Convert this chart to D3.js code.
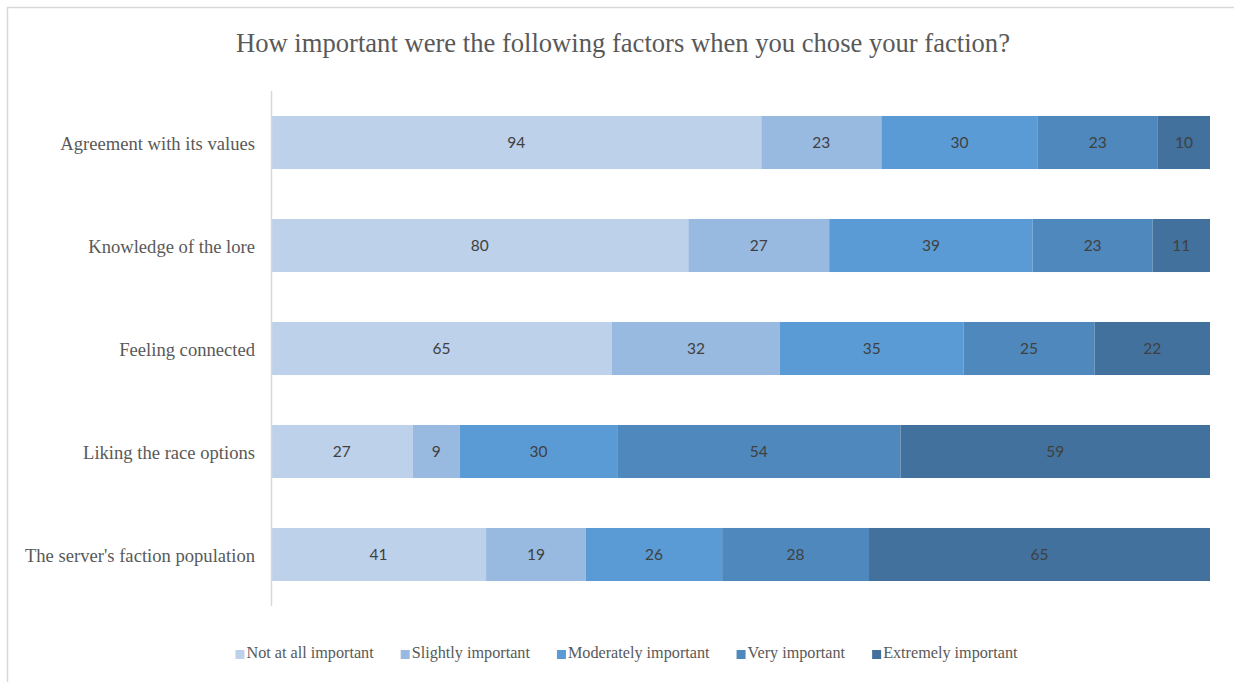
<!DOCTYPE html>
<html>
<head>
<meta charset="utf-8">
<script src="https://cdn.jsdelivr.net/npm/d3@7"></script>
<style>
  html, body { margin: 0; padding: 0; background: #fff; }
  svg { display: block; }
</style>
</head>
<body>
<svg id="chart" width="1234" height="682"></svg>
<script>
// Survey: importance of factors when choosing a faction
const categories = [
  "Agreement with its values",
  "Knowledge of the lore",
  "Feeling connected",
  "Liking the race options",
  "The server's faction population"
];
const levels = [
  "Not at all important",
  "Slightly important",
  "Moderately important",
  "Very important",
  "Extremely important"
];
const notAtAll   = [94, 80, 65, 27, 41];
const slightly   = [23, 27, 32,  9, 19];
const moderately = [30, 39, 35, 30, 26];
const very       = [23, 23, 25, 54, 28];
const extremely  = [10, 11, 22, 59, 65];
const colors = ["#bdd1ea", "#98b9e0", "#5b9bd5", "#4e88bc", "#41719c"];

const seriesValues = [notAtAll, slightly, moderately, very, extremely];
const rows = categories.map((c, i) => {
  const r = { category: c };
  levels.forEach((l, j) => { r[l] = seriesValues[j][i]; });
  return r;
});

const stack = d3.stack().keys(levels).offset(d3.stackOffsetExpand);
const series = stack(rows);

const svg = d3.select("#chart");
const W = 1234, H = 682;
const plot = { left: 271, right: 1210, top: 91, bottom: 606 };

// chart frame
svg.append("path")
  .attr("d", `M7.5,${H + 2} V7.5 H${W + 2}`)
  .attr("fill", "none")
  .attr("stroke", "#d9d9d9")
  .attr("stroke-width", 1.5);

// title
svg.append("text")
  .attr("x", 623).attr("y", 52)
  .attr("text-anchor", "middle")
  .attr("font-family", "'Liberation Serif', 'Times New Roman', serif")
  .attr("font-size", 26.6)
  .attr("fill", "#595959")
  .text("How important were the following factors when you chose your faction?");

const x = d3.scaleLinear().domain([0, 1]).range([plot.left, plot.right]);
const y = d3.scaleBand().domain(categories).range([plot.top, plot.bottom]).paddingInner(0.485).paddingOuter(0.2425);

const groups = svg.append("g").selectAll("g")
  .data(series).join("g")
  .attr("fill", (d, i) => colors[i]);

groups.selectAll("rect")
  .data(d => d.map(v => ({ v, key: d.key })))
  .join("rect")
  .attr("x", d => x(d.v[0]))
  .attr("width", d => x(d.v[1]) - x(d.v[0]))
  .attr("y", d => y(d.v.data.category))
  .attr("height", y.bandwidth());

// value labels
groups.selectAll("text")
  .data(d => d.map(v => ({ v, key: d.key })))
  .join("text")
  .attr("x", d => (x(d.v[0]) + x(d.v[1])) / 2)
  .attr("y", d => y(d.v.data.category) + y.bandwidth() / 2)
  .attr("dy", "0.35em")
  .attr("text-anchor", "middle")
  .attr("font-family", "Lato, 'Open Sans', sans-serif")
  .attr("font-size", 15.5)
  .attr("fill", "#404040")
  .text(d => d.v.data[d.key]);

// category axis
const yAxis = svg.append("g")
  .attr("transform", `translate(${plot.left},0)`)
  .call(d3.axisLeft(y).tickSize(0).tickPadding(16));
yAxis.select(".domain")
  .attr("d", `M0.5,${plot.top}V${plot.bottom}`)
  .attr("stroke", "#d9d9d9")
  .attr("stroke-width", 1.5);
yAxis.selectAll("text")
  .attr("dy", "0.4em")
  .attr("font-family", "'Liberation Serif', 'Times New Roman', serif")
  .attr("font-size", 18.6)
  .attr("fill", "#595959");

// legend
const legend = svg.append("g");
const items = legend.selectAll("g").data(levels).join("g");
items.append("rect")
  .attr("width", 9).attr("height", 9)
  .attr("y", -8)
  .attr("fill", (d, i) => colors[i]);
items.append("text")
  .attr("x", 11)
  .attr("font-family", "'Liberation Serif', 'Times New Roman', serif")
  .attr("font-size", 16.2)
  .attr("fill", "#595959")
  .text(d => d);
let cursor = 0;
const gap = 27;
items.each(function () {
  const w = 11 + d3.select(this).select("text").node().getComputedTextLength();
  d3.select(this).attr("transform", `translate(${cursor},0)`);
  cursor += w + gap;
});
const total = cursor - gap;
legend.attr("transform", `translate(${626.5 - total / 2},658)`);
</script>
</body>
</html>
